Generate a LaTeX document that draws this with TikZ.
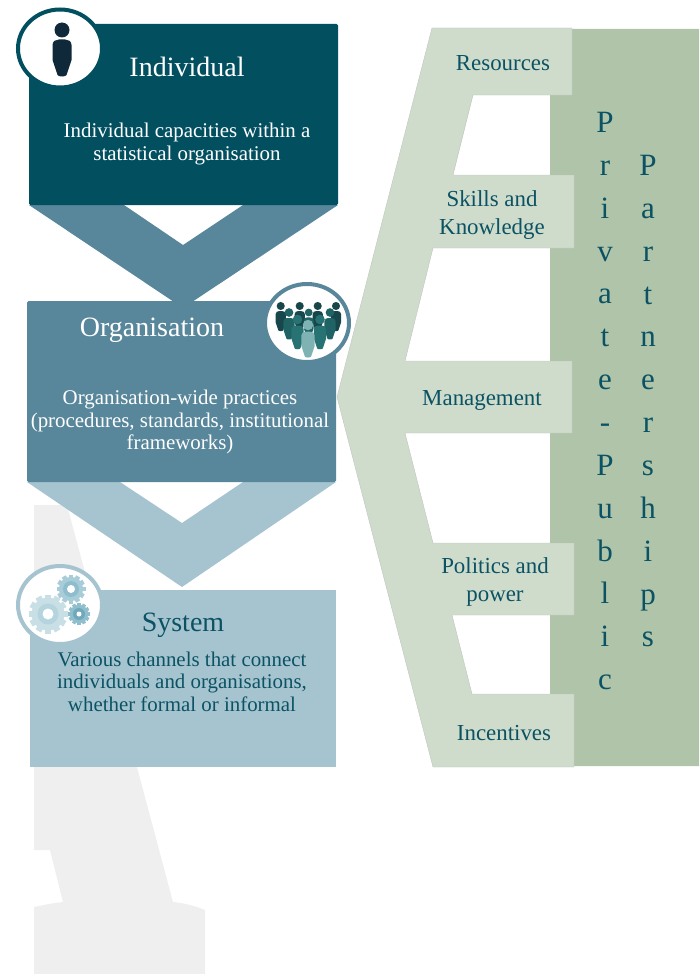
\documentclass[tikz,border=0pt]{standalone}
\usepackage{fontspec}
\usetikzlibrary{shapes.geometric}
\setmainfont{Liberation Serif}
\definecolor{cDark}{HTML}{024F60}
\definecolor{cMid}{HTML}{58879B}
\definecolor{cLight}{HTML}{A6C4CF}
\definecolor{cGrey}{HTML}{EFEFEF}
\definecolor{cSage}{HTML}{AFC4A9}
\definecolor{cPale}{HTML}{CFDCCC}
\definecolor{cEdge}{HTML}{BFC6BD}
\definecolor{cText}{HTML}{0B5364}
\definecolor{cBack}{HTML}{17474B}
\definecolor{cSecond}{HTML}{1F6365}
\definecolor{cFront}{HTML}{277273}
\definecolor{cCentre}{HTML}{7FB3B3}
\definecolor{cInk}{HTML}{10293A}
\definecolor{cGearA}{HTML}{A8CDD9}
\definecolor{cGearAr}{HTML}{8EBECD}
\definecolor{cGearB}{HTML}{C8DFE6}
\definecolor{cGearBr}{HTML}{B5D4DD}
\definecolor{cGearC}{HTML}{8FBECC}
\definecolor{cGearCr}{HTML}{6FA9BB}
\newcommand{\myperson}[4]{% x, y (head centre), scale, colour
  \begin{scope}[shift={(#1,#2)},scale=#3]
    \fill[#4] (0,0) circle (7.5);
    \fill[#4] (-9.5,15) .. controls (-9.5,11) and (-6,9.5) .. (-3,9.5) -- (3,9.5) .. controls (6,9.5) and (9.5,11) .. (9.5,15)
      -- (9.5,30) -- (4.5,45) .. controls (4,47) and (-4,47) .. (-4.5,45) -- (-9.5,30) -- cycle;
  \end{scope}}
\newcommand{\mygear}[7]{% x,y,outer r,inner r,hole r,body colour,ring colour
  \begin{scope}[shift={(#1,#2)}]
    \foreach \a in {0,30,...,330}
      \fill[#6,rotate=\a] (-0.16*#3,0) rectangle (0.16*#3,#3);
    \fill[#6] (0,0) circle (#3*0.84);
    \fill[#7] (0,0) circle (#4);
    \fill[white] (0,0) circle (#5);
  \end{scope}}
\newcommand{\lsize}[2]{\fontsize{#1}{#2}\selectfont}
\tikzset{
  x=1pt,y=-1pt,
  panel/.style={inner sep=0pt,outer sep=0pt,anchor=north west},
  label text/.style={inner sep=0pt,align=center,font=\lsize{20.9}{22.5}},
  side text/.style={inner sep=0pt,align=center,text=cText,font=\lsize{22.9}{28.5}},
  title text/.style={inner sep=0pt,font=\lsize{28}{30}},
  column text/.style={inner sep=0pt,align=center,anchor=north,text=cText,font=\lsize{31}{42.85}},
  badge/.style={ellipse,fill=white,line width=4pt,inner sep=0pt,minimum width=84pt,minimum height=78pt},
}
\begin{document}
\begin{tikzpicture}
\useasboundingbox (0,0) rectangle (699,974);
% faint grey background shape
\fill[cGrey] (34,505) -- (67,505) -- (173,902) .. controls (184,903) and (196,906) .. (205,910)
  -- (205,974) -- (34,974) -- (34,907) .. controls (43,905) and (53,903) .. (63,902)
  -- (50,850) -- (34,850) -- cycle;
% right-hand panel
\fill[cSage] (572,29) -- (699,29) -- (699,766) -- (574,766) -- (574,694) -- (550,694) -- (550,95) -- (572,95) -- cycle;
\filldraw[fill=cPale,draw=cEdge,line width=0.4pt]
  (432,28) -- (572,28) -- (572,95) -- (473,95) -- (453,175) -- (574,175) -- (574,248) -- (433,248)
  -- (405,361) -- (572,361) -- (572,433) -- (405,433) -- (433,543) -- (574,543) -- (574,615)
  -- (452,615) -- (472,694) -- (574,694) -- (574,767) -- (433,767) -- (337,397) -- cycle;
% chevrons
\fill[cMid] (29,205) -- (124,205) -- (183,245) -- (243,205) -- (338,205) -- (183,308) -- cycle;
\fill[cLight] (27,482) -- (120,482) -- (182,523) -- (243,482) -- (336,482) -- (182,587) -- cycle;
% boxes
\node[panel,fill=cDark,rounded corners=1.5pt,minimum width=309pt,minimum height=181pt] (individual) at (29,24) {};
\node[panel,fill=cMid,rounded corners=1.5pt,minimum width=309pt,minimum height=181pt] (organisation) at (27,301) {};
\node[panel,fill=cLight,minimum width=306pt,minimum height=177pt] (system) at (30,590) {};
% badges
\node[badge,draw=cDark] (badgeA) at (60,48.5) {};
\node[badge,draw=cMid] (badgeB) at (307,323) {};
\node[badge,draw=cLight] (badgeC) at (60,605) {};
% icons
\myperson{62}{30}{1}{cInk}
\foreach \px in {280.7,299.7,317.7,336} {\myperson{\px}{306}{0.54}{cBack}}
\foreach \px in {289,330} {\myperson{\px}{312.5}{0.58}{cSecond}}
\myperson{308.7}{312.5}{0.52}{cSecond}
\foreach \px in {297.5,320} {\myperson{\px}{319.5}{0.64}{cFront}}
\myperson{308}{325}{0.7}{cCentre}
\mygear{71}{589}{14.5}{8}{4}{cGearA}{cGearAr}
\mygear{48}{614}{19.5}{10.5}{5.5}{cGearB}{cGearBr}
\mygear{79}{614}{11}{6}{2.5}{cGearC}{cGearCr}
% texts
\node[title text,text=white] (t1) at (187,67) {Individual};
\node[label text,text=white] (b1) at (187,144) {Individual capacities within a\\statistical organisation};
\node[title text,text=white] (t2) at (152,330) {Organisation};
\node[label text,text=white] (b2) at (180,422) {Organisation-wide practices\\(procedures, standards, institutional\\frameworks)};
\node[title text,text=cText] (t3) at (183,625.5) {System};
\node[label text,text=cText] (b3) at (182,681.5) {Various channels that connect\\individuals and organisations,\\whether formal or informal};
\node[side text] (s1) at (503,63.5) {Resources};
\node[side text] (s2) at (492,215) {Skills and\\Knowledge};
\node[side text] (s3) at (482,400) {Management};
\node[side text] (s4) at (495,582) {Politics and\\power};
\node[side text] (s5) at (504,733) {Incentives};
\node[column text] (c1) at (605,112) {P\\r\\i\\v\\a\\t\\e\\-\\P\\u\\b\\l\\i\\c};
\node[column text] (c2) at (648,155) {P\\a\\r\\t\\n\\e\\r\\s\\h\\i\\p\\s};
\end{tikzpicture}
\end{document}
